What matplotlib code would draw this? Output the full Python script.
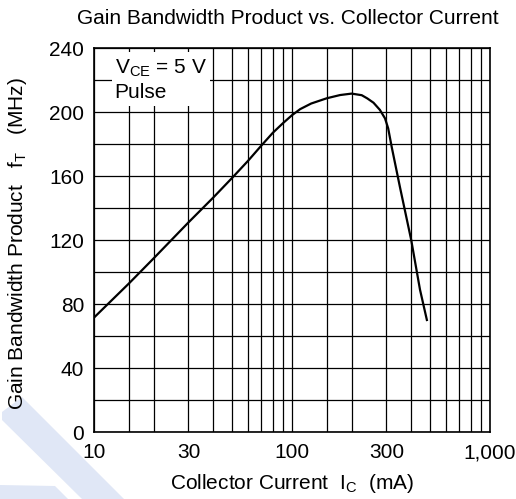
import matplotlib
matplotlib.use('Agg')
from matplotlib import pyplot as plt
from matplotlib.patches import Polygon, Rectangle


# Curva fT vs IC (mA, MHz)
ic_ma = [10, 15, 20, 30, 40, 50, 60, 70, 80, 90, 100, 110, 125, 150, 175, 200,
         225, 240, 258, 278, 295, 306, 319, 351, 400, 443, 480]
ft_mhz = [71.5, 92.8, 108.5, 131, 146.5, 159, 169.5, 179, 187, 193, 198, 201.8,
          205.3, 208.6, 210.6, 211.5, 210.5, 208.5, 205.8, 201.3, 196, 189.8,
          178, 153, 120, 89, 70]

x_major = [10, 30, 100, 300, 1000]
x_major_labels = ['10', '30', '100', '300', '1,000']
x_minor = [15, 20, 40, 50, 60, 70, 80, 90, 150, 200, 400, 500, 600, 700, 800, 900]
y_major = [0, 40, 80, 120, 160, 200, 240]
y_minor = [20, 60, 100, 140, 180, 220]

plt.rcParams['font.family'] = ['Liberation Sans', 'DejaVu Sans']
plt.rcParams['mathtext.fontset'] = 'custom'
plt.rcParams['mathtext.rm'] = 'Liberation Sans'
plt.rcParams['mathtext.it'] = 'Liberation Sans:italic'
plt.rcParams['mathtext.default'] = 'regular'

FS = 15
W, H = 516, 499
fig = plt.figure(figsize=(W / 100, H / 100), dpi=100)
ax = fig.add_axes([94 / W, 1 - 432 / H, 396 / W, 384 / H])

# marca de agua azul clara
band_color = '#e0e7f6'
for pts in ([(2, 412), (22, 397), (124, 499), (82, 499), (2, 420)],
            [(0, 485), (55, 486), (68, 499), (0, 499)]):
    fig.add_artist(Polygon([(px / W, 1 - py / H) for px, py in pts],
                           closed=True, transform=fig.transFigure,
                           facecolor=band_color, edgecolor='none', zorder=0))

ax.set_xscale('log')
ax.set_xlim(10, 1000)
ax.set_ylim(0, 240)
ax.patch.set_alpha(0)

ax.set_xticks(x_major)
ax.set_xticklabels(x_major_labels)
ax.set_xticks(x_minor, minor=True)
ax.set_xticklabels([], minor=True)
ax.set_yticks(y_major)
ax.set_yticks(y_minor, minor=True)

ax.tick_params(which='both', length=0, labelsize=FS, colors='black')
ax.tick_params(axis='x', pad=8)
ax.tick_params(axis='y', pad=7)

ax.set_axisbelow(True)
ax.grid(True, which='both', color='black', linewidth=0.9)
for s in ax.spines.values():
    s.set_linewidth(1.2)

# recuadro de condiciones
ax.add_patch(Rectangle((12.3, 203.8), 38.5 - 12.3, 237.5 - 203.8,
                       facecolor='white', edgecolor='none', zorder=1.5))
ax.text(12.7, 227.3, 'V$_{CE}$ = 5 V', fontsize=FS, va='center', ha='left', zorder=2)
ax.text(12.7, 212.3, 'Pulse', fontsize=FS, va='center', ha='left', zorder=2)

ax.plot(ic_ma, ft_mhz, color='black', linewidth=1.6, zorder=3,
        solid_joinstyle='round')

ax.text(0.49, 1.078, 'Gain Bandwidth Product vs. Collector Current',
        transform=ax.transAxes, ha='center', va='center', fontsize=FS)
ax.set_xlabel('Collector Current  I$_C$  (mA)', fontsize=FS)
ax.xaxis.set_label_coords(0.5, -0.133)
ax.xaxis.label.set_va('center')
ax.set_ylabel('Gain Bandwidth Product   f$_T$   (MHz)', fontsize=FS)
ax.yaxis.set_label_coords(-0.192, 0.49)
ax.yaxis.label.set_va('center')

fig.savefig('out.png', dpi=100)
